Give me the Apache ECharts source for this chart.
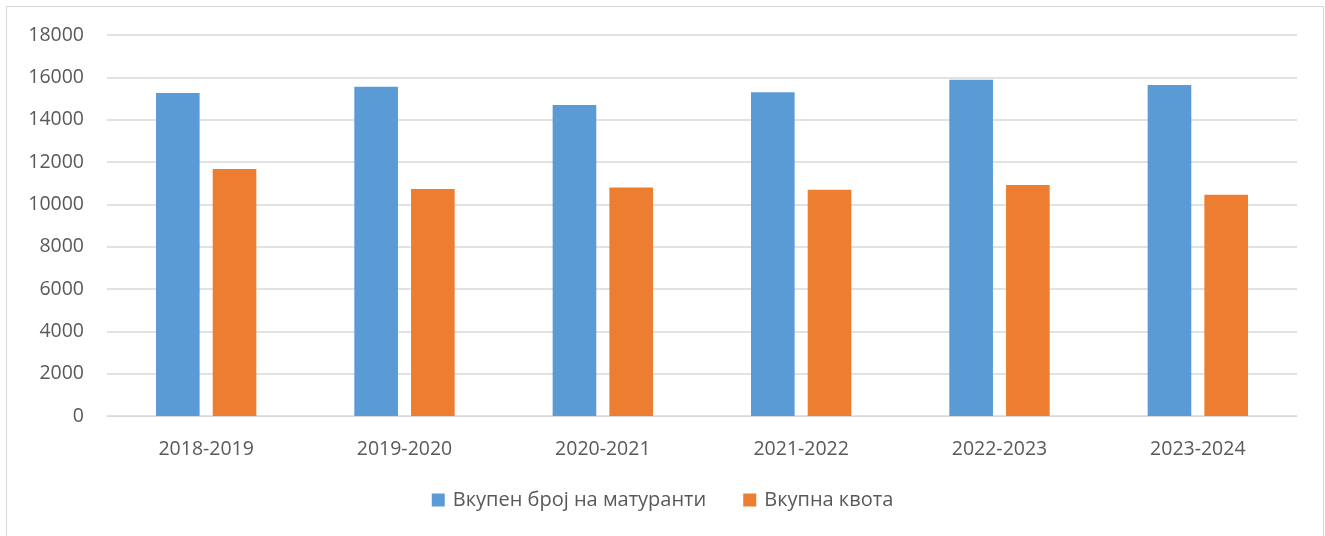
<!DOCTYPE html>
<html><head><meta charset="utf-8">
<script src="https://cdn.jsdelivr.net/npm/echarts@6/dist/echarts.min.js"></script>
<style>
html,body{margin:0;padding:0;background:#fff;}
#frame{position:absolute;left:6px;top:6px;width:1318px;height:535px;border:1px solid #d9d9d9;box-sizing:border-box;}
#c{position:absolute;left:0;top:0;width:1325px;height:536px;}
</style></head>
<body><div id="frame"></div><div id="c"></div>
<script>
const categories = ['2018-2019','2019-2020','2020-2021','2021-2022','2022-2023','2023-2024'];
const seriesNames = ['Вкупен број на матуранти','Вкупна квота'];
const graduates = [15260, 15560, 14690, 15290, 15890, 15640];
const quota = [11670, 10720, 10800, 10690, 10910, 10450];

const chart = echarts.init(document.getElementById('c'));
const font = 'Open Sans, Liberation Sans, sans-serif';
chart.setOption({
  animation:false,
  grid:{left:107,right:28,top:35,bottom:120,containLabel:false},
  legend:{bottom:21,left:'center',itemWidth:13,itemHeight:13,itemGap:37,icon:'rect',
    textStyle:{fontFamily:font,fontSize:20,color:'#595959',padding:[0,0,0,3]},data:seriesNames},
  xAxis:{type:'category',data:categories,
    axisLine:{lineStyle:{color:'#d9d9d9',width:1}},axisTick:{show:false},
    axisLabel:{fontFamily:font,fontSize:19.5,color:'#595959',margin:23}},
  yAxis:{type:'value',min:0,max:18000,interval:2000,
    axisLine:{show:false},axisTick:{show:false},
    splitLine:{lineStyle:{color:'#d9d9d9',width:1.5}},
    axisLabel:{fontFamily:font,fontSize:19.5,color:'#595959',margin:23,formatter:v=>String(v)}},
  series:[
    {name:seriesNames[0],type:'bar',data:graduates,barWidth:'22%',barGap:'30%',
      itemStyle:{color:'#5b9bd5'}},
    {name:seriesNames[1],type:'bar',data:quota,barWidth:'22%',
      itemStyle:{color:'#ed7d31'}}
  ]
});
</script></body></html>
